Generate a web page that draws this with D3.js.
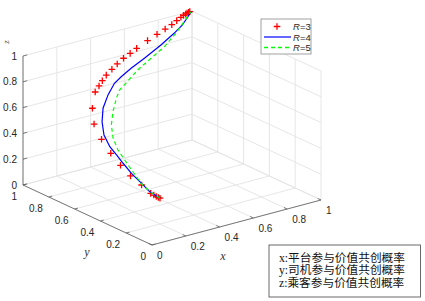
<!DOCTYPE html>
<html>
<head>
<meta charset="utf-8">
<script src="https://cdn.jsdelivr.net/npm/d3@7"></script>
<style>
  body { margin: 0; background: #fff; }
  svg { display: block; }
</style>
</head>
<body>
<div id="chart"></div>
<script>
// DATA
// tick values shared by the three axes
const ticks = [0, 0.2, 0.4, 0.6, 0.8, 1];
const tickLabels = ["0", "0.2", "0.4", "0.6", "0.8", "1"];
const seriesNames = ["3", "4", "5"];

// trajectories as [x, y, z]
const r3Points = [
  [0.200, 0.200, 0.200], [0.198, 0.210, 0.202], [0.193, 0.220, 0.206], [0.194, 0.240, 0.208],
  [0.191, 0.260, 0.213], [0.198, 0.340, 0.238], [0.201, 0.430, 0.265], [0.203, 0.510, 0.310],
  [0.214, 0.600, 0.357], [0.228, 0.690, 0.419], [0.245, 0.770, 0.494], [0.281, 0.830, 0.576],
  [0.328, 0.870, 0.667], [0.362, 0.885, 0.695], [0.393, 0.900, 0.718], [0.424, 0.910, 0.746],
  [0.465, 0.920, 0.772], [0.504, 0.930, 0.795], [0.549, 0.940, 0.819], [0.596, 0.950, 0.836],
  [0.642, 0.960, 0.854], [0.714, 0.970, 0.884], [0.774, 0.975, 0.910], [0.826, 0.980, 0.930],
  [0.869, 0.985, 0.947], [0.902, 0.990, 0.964], [0.928, 0.992, 0.980], [0.945, 0.994, 0.988],
  [0.959, 0.996, 0.992], [0.969, 0.998, 0.996], [0.979, 0.999, 0.998], [0.987, 1.000, 1.000]
];
const r4Points = [
  [0.200, 0.200, 0.200], [0.193, 0.270, 0.220], [0.195, 0.350, 0.260], [0.199, 0.420, 0.291],
  [0.203, 0.490, 0.335], [0.210, 0.550, 0.369], [0.216, 0.610, 0.403], [0.235, 0.680, 0.454],
  [0.277, 0.750, 0.510], [0.321, 0.800, 0.576], [0.381, 0.840, 0.640], [0.442, 0.870, 0.695],
  [0.497, 0.890, 0.717], [0.571, 0.910, 0.747], [0.665, 0.930, 0.783], [0.778, 0.950, 0.837],
  [0.871, 0.970, 0.886], [0.928, 0.980, 0.926], [0.979, 0.995, 0.979], [0.994, 1.000, 0.995]
];
const r5Points = [
  [0.200, 0.200, 0.200], [0.193, 0.270, 0.220], [0.193, 0.340, 0.255], [0.206, 0.390, 0.276],
  [0.215, 0.440, 0.302], [0.228, 0.510, 0.342], [0.234, 0.570, 0.390], [0.251, 0.630, 0.447],
  [0.286, 0.690, 0.509], [0.334, 0.740, 0.573], [0.392, 0.790, 0.633], [0.434, 0.820, 0.669],
  [0.506, 0.850, 0.699], [0.587, 0.880, 0.743], [0.689, 0.910, 0.784], [0.790, 0.940, 0.823],
  [0.874, 0.960, 0.890], [0.938, 0.980, 0.948], [0.979, 0.995, 0.986], [0.994, 1.000, 0.995]
];

const noteLines = ["x:平台参与价值共创概率", "y:司机参与价值共创概率", "z:乘客参与价值共创概率"];

// LAYOUT
const width = 425, height = 301;
const origin = [152, 245];   // screen position of (0,0,0)

// each data axis moves the point on screen
const xToPx = d3.scaleLinear().domain([0, 1]).range([0, 169]);
const xToPy = d3.scaleLinear().domain([0, 1]).range([0, -45]);
const yToPx = d3.scaleLinear().domain([0, 1]).range([0, -129]);
const yToPy = d3.scaleLinear().domain([0, 1]).range([0, -60]);
const zToPy = d3.scaleLinear().domain([0, 1]).range([0, -129]);

function proj(p) {
    return [origin[0] + xToPx(p[0]) + yToPx(p[1]),
            origin[1] + xToPy(p[0]) + yToPy(p[1]) + zToPy(p[2])];
}

const svg = d3.select("#chart").append("svg")
    .attr("width", width)
    .attr("height", height);

const labelFont = "'Liberation Sans', Arial, sans-serif";
const serifFont = "'Liberation Serif', 'Times New Roman', serif";

// GRID on the floor and the two back walls
let gridSegs = [];
ticks.forEach(function (t) {
    gridSegs.push([[t, 0, 0], [t, 1, 0]], [[0, t, 0], [1, t, 0]]);
    gridSegs.push([[t, 1, 0], [t, 1, 1]], [[0, 1, t], [1, 1, t]]);
    gridSegs.push([[1, t, 0], [1, t, 1]], [[1, 0, t], [1, 1, t]]);
});
svg.append("g").selectAll("line")
    .data(gridSegs)
    .enter().append("line")
    .attr("x1", d => proj(d[0])[0]).attr("y1", d => proj(d[0])[1])
    .attr("x2", d => proj(d[1])[0]).attr("y2", d => proj(d[1])[1])
    .attr("stroke", "#e3e3e3")
    .attr("stroke-width", 0.9);

// AXES
const axisSegs = [
    [[0, 0, 0], [1, 0, 0]],
    [[0, 0, 0], [0, 1, 0]],
    [[0, 1, 0], [0, 1, 1]]
];
let tickSegs = [];
ticks.forEach(function (t) {
    tickSegs.push([[t, 0, 0], [t, 0.025, 0]]);
    tickSegs.push([[0, t, 0], [0.02, t, 0]]);
    tickSegs.push([[0, 1, t], [0.025, 1, t]]);
});
svg.append("g").selectAll("line")
    .data(axisSegs.concat(tickSegs))
    .enter().append("line")
    .attr("x1", d => proj(d[0])[0]).attr("y1", d => proj(d[0])[1])
    .attr("x2", d => proj(d[1])[0]).attr("y2", d => proj(d[1])[1])
    .attr("stroke", "#5a5a5a")
    .attr("stroke-width", 0.8);

//tick labels
const tl = svg.append("g")
    .attr("font-family", labelFont)
    .attr("font-size", "10px")
    .attr("fill", "#262626");
ticks.forEach(function (t, i) {
    let px = proj([t, 0, 0]);
    tl.append("text").attr("x", px[0] + 5).attr("y", px[1] + 14)
        .attr("text-anchor", "start").text(tickLabels[i]);
    let py = proj([0, t, 0]);
    tl.append("text").attr("x", py[0] - 6).attr("y", py[1] + 14.5)
        .attr("text-anchor", "end").text(tickLabels[i]);
    let pz = proj([0, 1, t]);
    tl.append("text").attr("x", pz[0] - 6).attr("y", pz[1] + 3.5)
        .attr("text-anchor", "end").text(tickLabels[i]);
});

//axis names
const an = svg.append("g")
    .attr("font-family", serifFont)
    .attr("font-style", "italic")
    .attr("font-size", "12px")
    .attr("fill", "#333");
an.append("text").attr("x", 223).attr("y", 260).attr("text-anchor", "middle").text("x");
an.append("text").attr("x", 87).attr("y", 256).attr("text-anchor", "middle").text("y");
an.append("text").attr("transform", "translate(9,42) rotate(-90)")
    .attr("text-anchor", "middle").attr("font-size", "9px").text("z");

// SERIES
const line = d3.line().x(d => proj(d)[0]).y(d => proj(d)[1]);
const crossPath = "M-3.3,0H3.3M0,-3.3V3.3";

svg.append("g").selectAll("path")
    .data(r3Points)
    .enter().append("path")
    .attr("d", crossPath)
    .attr("transform", d => "translate(" + proj(d)[0] + "," + proj(d)[1] + ")")
    .attr("stroke", "#ff0000")
    .attr("stroke-width", 1.3)
    .attr("fill", "none");

svg.append("path")
    .attr("d", line(r4Points))
    .attr("stroke", "#0000ff")
    .attr("stroke-width", 1.2)
    .attr("fill", "none");

svg.append("path")
    .attr("d", line(r5Points))
    .attr("stroke", "#00ff00")
    .attr("stroke-width", 1.2)
    .attr("stroke-dasharray", "4,3")
    .attr("fill", "none");

// LEGEND
const lg = svg.append("g").attr("transform", "translate(261,19)");
lg.append("rect").attr("width", 50).attr("height", 35)
    .attr("fill", "#fff").attr("stroke", "#8a8a8a").attr("stroke-width", 0.8);
lg.append("path").attr("d", crossPath).attr("transform", "translate(16,7.5)")
    .attr("stroke", "#ff0000").attr("stroke-width", 1.3);
lg.append("line").attr("x1", 3).attr("x2", 30).attr("y1", 18).attr("y2", 18)
    .attr("stroke", "#0000ff").attr("stroke-width", 1.2);
lg.append("line").attr("x1", 3).attr("x2", 30).attr("y1", 28.5).attr("y2", 28.5)
    .attr("stroke", "#00ff00").attr("stroke-width", 1.3).attr("stroke-dasharray", "4,3");
seriesNames.forEach(function (n, i) {
    let t = lg.append("text")
        .attr("x", 32).attr("y", 11 + i * 10.5)
        .attr("font-family", labelFont).attr("font-size", "9.5px").attr("fill", "#262626");
    t.append("tspan").attr("font-style", "italic").text("R");
    t.append("tspan").text("=" + n);
});

// NOTE BOX
const nb = svg.append("g").attr("transform", "translate(269,245)");
nb.append("rect").attr("width", 151.5).attr("height", 52)
    .attr("fill", "#fff").attr("stroke", "#5a5a5a").attr("stroke-width", 0.9);
nb.selectAll("text")
    .data(noteLines)
    .enter().append("text")
    .attr("x", 10)
    .attr("y", (d, i) => 16.5 + i * 12.7)
    .attr("font-family", serifFont + ", 'Noto Sans CJK SC'")
    .attr("font-size", "11.7px")
    .attr("fill", "#111")
    .text(d => d);
</script>
</body>
</html>
